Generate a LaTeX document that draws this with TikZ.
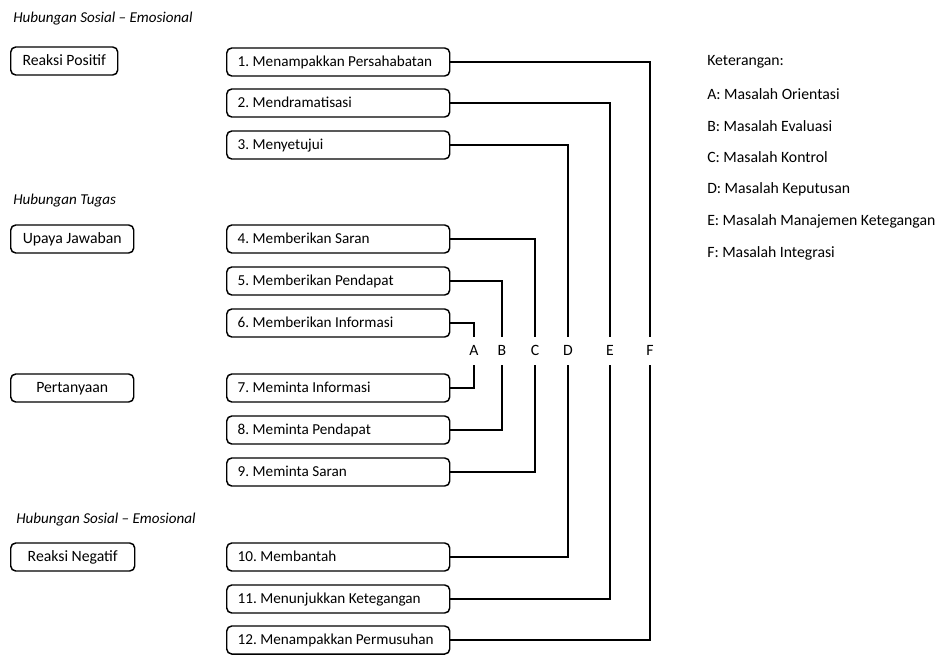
\documentclass[tikz,border=0pt]{standalone}
\usepackage{fontspec}
\setmainfont{Carlito}
\usetikzlibrary{positioning}

\begin{document}
\begin{tikzpicture}[x=0.75pt, y=-0.75pt,
    txt/.style = {font=\fontsize{11.8pt}{14pt}\selectfont\frenchspacing, inner sep=0pt},
    head/.style = {txt, font=\fontsize{11.3pt}{13pt}\selectfont\itshape, anchor=west},
    grupbox/.style = {txt, draw, line width=1.1pt, rounded corners=3.75pt,
      text height=9pt, text depth=2pt, minimum height=21pt, anchor=west},
    itembox/.style = {txt, font=\fontsize{11.4pt}{14pt}\selectfont\frenchspacing,
      draw, line width=1.1pt, rounded corners=3.75pt,
      text height=9pt, text depth=2pt, minimum height=21pt,
      inner xsep=8.25pt, text width=150.75pt, align=flush left, anchor=west},
    huruf/.style = {txt, text height=9pt, text depth=2pt,
      minimum height=21pt, minimum width=8pt},
    garis/.style = {line width=1.1pt}]
  \useasboundingbox (0,0) rectangle (937,654);

  % judul kelompok
  \node[head] (h1) at (13,19) {Hubungan Sosial -- Emosional};
  \node[head] (h2) at (13,201) {Hubungan Tugas};
  \node[head] (h3) at (16,520) {Hubungan Sosial -- Emosional};

  % kotak kiri
  \node[grupbox, minimum width=80.25pt] (positif) at (10,61) {Reaksi Positif};
  \node[grupbox, minimum width=92.25pt] (jawaban) at (10,239) {Upaya Jawaban};
  \node[grupbox, minimum width=92.25pt] (tanya) at (10,388) {Pertanyaan};
  \node[grupbox, minimum width=93pt] (negatif) at (10,557) {Reaksi Negatif};

  % kotak tengah
  \node[itembox] (k1) at (226,62) {1. Menampakkan Persahabatan};
  \node[itembox] (k2) at (226,103) {2. Mendramatisasi};
  \node[itembox] (k3) at (226,145) {3. Menyetujui};
  \node[itembox] (k4) at (226,239) {4. Memberikan Saran};
  \node[itembox] (k5) at (226,281) {5. Memberikan Pendapat};
  \node[itembox] (k6) at (226,323) {6. Memberikan Informasi};
  \node[itembox] (k7) at (226,388) {7. Meminta Informasi};
  \node[itembox] (k8) at (226,430) {8. Meminta Pendapat};
  \node[itembox] (k9) at (226,472) {9. Meminta Saran};
  \node[itembox] (k10) at (226,557) {10. Membantah};
  \node[itembox] (k11) at (226,599) {11. Menunjukkan Ketegangan};
  \node[itembox] (k12) at (226,640) {12. Menampakkan Permusuhan};

  % huruf kolom
  \node[huruf] (A) at (474,351) {A};
  \node[huruf] (B) at (502,351) {B};
  \node[huruf] (C) at (535,351) {C};
  \node[huruf] (D) at (568,351) {D};
  \node[huruf] (E) at (610,351) {E};
  \node[huruf] (F) at (650,351) {F};

  % penghubung
  \draw[garis] (k6.east) -| (A.north);
  \draw[garis] (A.south) |- (k7.east);
  \draw[garis] (k5.east) -| (B.north);
  \draw[garis] (B.south) |- (k8.east);
  \draw[garis] (k4.east) -| (C.north);
  \draw[garis] (C.south) |- (k9.east);
  \draw[garis] (k3.east) -| (D.north);
  \draw[garis] (D.south) |- (k10.east);
  \draw[garis] (k2.east) -| (E.north);
  \draw[garis] (E.south) |- (k11.east);
  \draw[garis] (k1.east) -| (F.north);
  \draw[garis] (F.south) |- (k12.east);

  % keterangan
  \node[txt, anchor=west] (ket) at (707,62) {Keterangan:};
  \node[txt, anchor=west] (ketA) at (707,94) {A: Masalah Orientasi};
  \node[txt, anchor=west] (ketB) at (707,126) {B: Masalah Evaluasi};
  \node[txt, anchor=west] (ketC) at (707,157) {C: Masalah Kontrol};
  \node[txt, anchor=west] (ketD) at (707,189) {D: Masalah Keputusan};
  \node[txt, anchor=west] (ketE) at (707,221) {E: Masalah Manajemen Ketegangan};
  \node[txt, anchor=west] (ketF) at (707,253) {F: Masalah Integrasi};
\end{tikzpicture}
\end{document}
